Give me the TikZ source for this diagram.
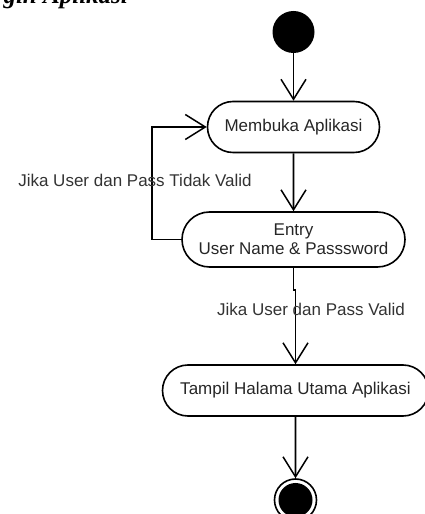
\documentclass[tikz,border=0pt]{standalone}
\usepackage{fontspec}
\setmainfont{Liberation Sans}
\newfontfamily\headfont{Liberation Serif}
\usetikzlibrary{arrows.meta,shapes.misc}

\begin{document}
\begin{tikzpicture}[x=1pt,y=1pt,
  act/.style={rounded rectangle,draw,line width=1.6pt,inner sep=0pt,
    font=\fontsize{17}{19}\selectfont,text=black!85,align=center},
  flow/.style={line width=1.6pt,-{Straight Barb[length=20pt,width=25pt,line width=1.5pt]}},
  guard/.style={font=\fontsize{17}{19}\selectfont,text=black!80,inner sep=0pt}]

\clip (0,0) rectangle (425,514);

\node [anchor=base west,font=\headfont\bfseries\itshape\fontsize{25}{28}\selectfont] (title) at (0,510) {gin Aplikasi};

\node [circle,fill,minimum size=42pt,inner sep=0pt] (start) at (293.5,482) {};
\node [act,minimum width=172pt,minimum height=51pt] (buka) at (293.5,387) {Membuka Aplikasi};
\node [act,minimum width=223pt,minimum height=55pt] (entry) at (293.5,274.5) {Entry\\User Name \& Passsword};
\node [act,minimum width=266pt,minimum height=51pt] (utama) at (295.5,123.5) {Tampil Halama Utama Aplikasi};
\node [circle,draw,line width=1.6pt,minimum size=42pt,inner sep=0pt] (stop) at (295.5,14) {};
\fill (stop.center) circle (17pt);

\draw[flow] (start) -- (buka);
\draw[flow] (buka) -- (entry);

% back to the start when login fails
\coordinate (back) at (152,387);
\draw[flow] (entry.west) -| (back) -- (buka.west);
\node[guard] (tidak) at (135,334) {Jika User dan Pass Tidak Valid};

\coordinate (kink) at (293.5,224);
\draw[flow] (entry.south) -- (kink) -| (utama.north);
\node[guard] (valid) at (311,205) {Jika User dan Pass Valid};

\draw[flow] (utama) -- (stop);

\end{tikzpicture}
\end{document}
